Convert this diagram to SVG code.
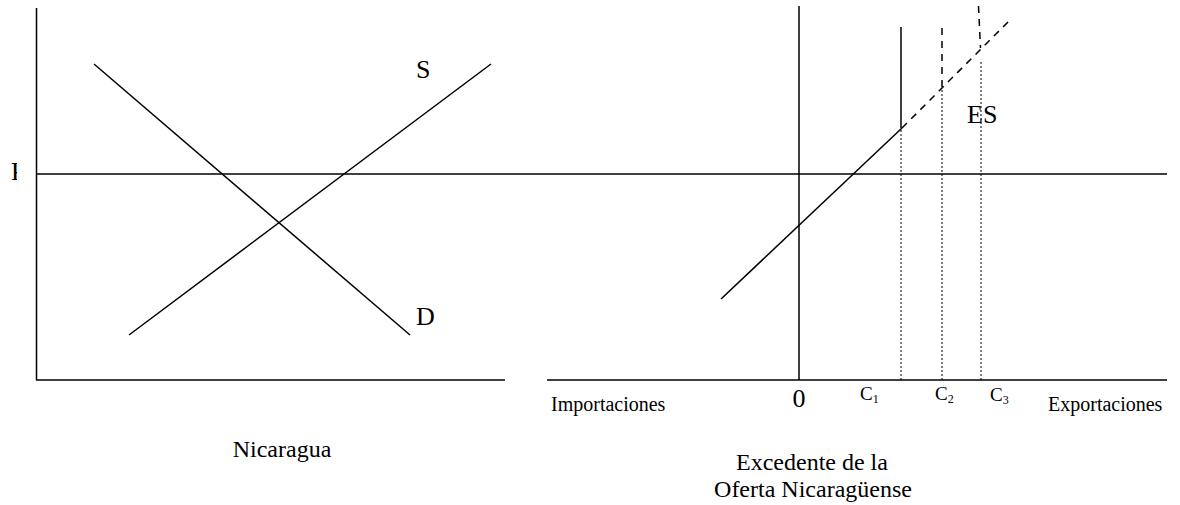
<svg xmlns="http://www.w3.org/2000/svg" width="1180" height="505" viewBox="0 0 1180 505">
<style>
.ln{stroke:#000;stroke-width:1.5;fill:none}
.da{stroke:#000;stroke-width:1.5;fill:none;stroke-dasharray:7,6}
.dt{stroke:#000;stroke-width:1;fill:none;stroke-dasharray:2,2}
text{font-family:"Liberation Serif","Times New Roman",serif;fill:#000}
</style>
<defs><clipPath id="pc"><rect x="0" y="150" width="17" height="40"/></clipPath></defs>
<rect width="1180" height="505" fill="#fff"/>
<g id="connectors">
<line class="ln" x1="36.5" y1="8" x2="36.5" y2="380"/>
<line class="ln" x1="36" y1="380" x2="505" y2="380"/>
<line class="ln" x1="36" y1="174" x2="1167" y2="174"/>
<line class="ln" x1="129" y1="335" x2="491" y2="64"/>
<line class="ln" x1="94" y1="64" x2="410" y2="335"/>
<line class="ln" x1="799" y1="6" x2="799" y2="380"/>
<line class="ln" x1="547" y1="380" x2="1167" y2="380"/>
<line class="ln" x1="721" y1="299" x2="902" y2="128"/>
<line class="da" x1="902" y1="128" x2="1012" y2="18"/>
<line class="ln" x1="901" y1="27" x2="901" y2="128"/>
<line class="da" x1="942" y1="28" x2="942" y2="88"/>
<line class="da" x1="978.5" y1="6" x2="980.5" y2="48"/>
<line class="dt" x1="901" y1="130" x2="901" y2="380"/>
<line class="dt" x1="942" y1="90" x2="942" y2="380"/>
<line class="dt" x1="981" y1="62" x2="981" y2="380"/>
</g>
<g id="label-P"><text x="11" y="180" font-size="26" clip-path="url(#pc)">P</text></g>
<g id="label-S"><text x="416" y="78" font-size="26">S</text></g>
<g id="label-D"><text x="416" y="325" font-size="26">D</text></g>
<g id="label-ES"><text x="967" y="123" font-size="26">ES</text></g>
<g id="label-0"><text x="799" y="407" font-size="26" text-anchor="middle">0</text></g>
<g id="label-C1"><text x="860" y="400" font-size="19">C<tspan font-size="12" dy="3">1</tspan></text></g>
<g id="label-C2"><text x="935" y="400" font-size="19">C<tspan font-size="12" dy="3">2</tspan></text></g>
<g id="label-C3"><text x="990" y="401" font-size="19">C<tspan font-size="12" dy="3">3</tspan></text></g>
<g id="label-imp"><text x="551" y="411" font-size="20">Importaciones</text></g>
<g id="label-exp"><text x="1048" y="411" font-size="20">Exportaciones</text></g>
<g id="label-nic"><text x="282" y="457" font-size="24" text-anchor="middle">Nicaragua</text></g>
<g id="label-exc"><text x="812" y="470" font-size="24" text-anchor="middle">Excedente de la</text><text x="813" y="497" font-size="24" text-anchor="middle">Oferta Nicaragüense</text></g>
</svg>
